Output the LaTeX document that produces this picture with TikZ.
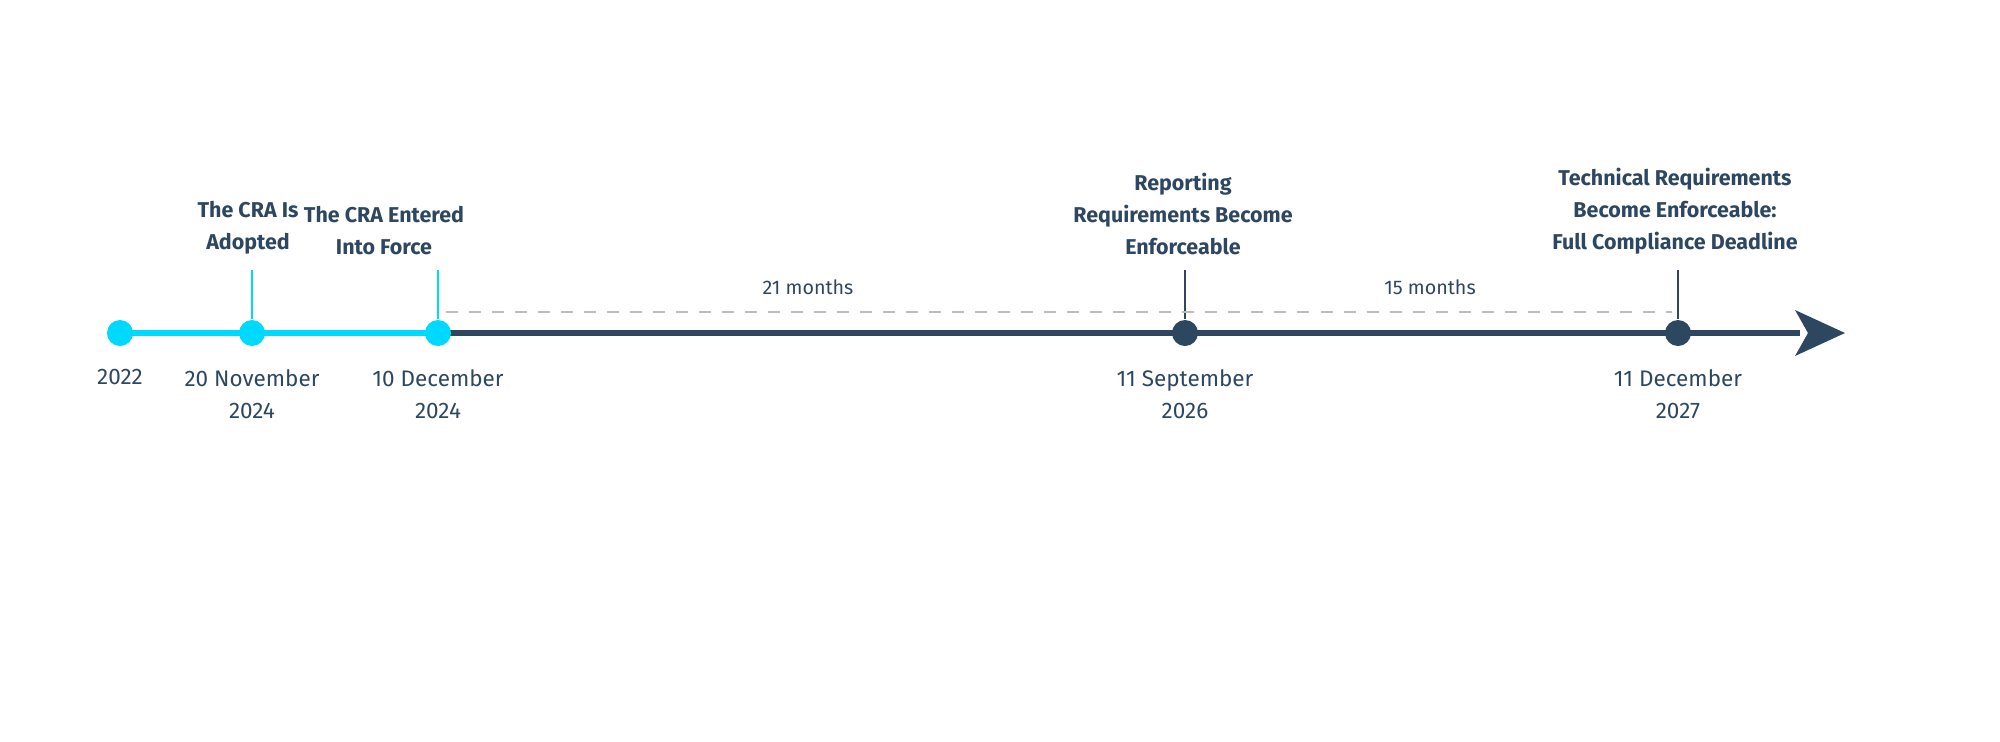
\documentclass[tikz,border=0pt]{standalone}
\usepackage{fontspec}
\setmainfont{Fira Sans}
\usetikzlibrary{positioning}
\definecolor{navy}{HTML}{2E4761}
\definecolor{aqua}{HTML}{00D9FF}
\definecolor{grayline}{HTML}{BDBDBD}
\tikzset{
  dot/.style={circle,fill=#1,inner sep=0pt,minimum size=0.26cm},
  date/.style={text=navy,font=\fontsize{6.4}{9.1}\selectfont,align=center,below=0.1cm},
  event/.style={text=navy,font=\fontsize{6.1}{9.1}\selectfont\bfseries,align=center,anchor=south,inner xsep=1pt},
  span/.style={text=navy,font=\fontsize{5.6}{7}\selectfont,anchor=south}
}
\begin{document}
\begin{tikzpicture}[x=0.01cm,y=0.01cm]
\useasboundingbox (0,0) rectangle (2000,741);
% axis
\coordinate (end) at (1845,408);
\draw[navy,line width=1.5pt] (438,408) -- (1800,408);
\fill[navy] (end) -- (1795,431) -- (1808,408) -- (1795,385) -- cycle;
\draw[aqua,line width=1.5pt] (120,408) -- (438,408);
% dots
\node[dot=aqua] (d22) at (120,408) {};
\node[dot=aqua] (d24a) at (252,408) {};
\node[dot=aqua] (d24b) at (438,408) {};
\node[dot=navy] (d26) at (1185,408) {};
\node[dot=navy] (d27) at (1678,408) {};
% ticks
\coordinate (t24a) at (252,471);
\coordinate (t24b) at (438,471);
\coordinate (t26) at (1185,471);
\coordinate (t27) at (1678,471);
\draw[aqua,line width=0.8pt] (t24a) -- (d24a) (t24b) -- (d24b);
\draw[navy,line width=0.8pt] (t26) -- (d26) (t27) -- (d27);
% spans
\coordinate (s0) at (446,429);
\coordinate (s1) at (1672,429);
\draw[grayline,dash pattern=on 0.12cm off 0.11cm,line width=0.4pt] (s0) -- (s1);
\node[span] (m21) at (808,434) {21 months};
\node[span] (m15) at (1430,434) {15 months};
% dates
\node[date] at (d22.south) {2022};
\node[date] at (d24a.south) {20 November\\2024};
\node[date] at (d24b.south) {10 December\\2024};
\node[date] at (d26.south) {11 September\\2026};
\node[date] at (d27.south) {11 December\\2027};
% events
\node[event] (e1) at (248,474) {The CRA Is\\Adopted};
\node[event] (e2) at (384,474) {The CRA Entered\\Into Force};
\node[event] (e3) at (1183,474) {Reporting\\Requirements Become\\Enforceable};
\node[event] (e4) at (1675,474) {Technical Requirements\\Become Enforceable:\\Full Compliance Deadline};
\end{tikzpicture}
\end{document}
